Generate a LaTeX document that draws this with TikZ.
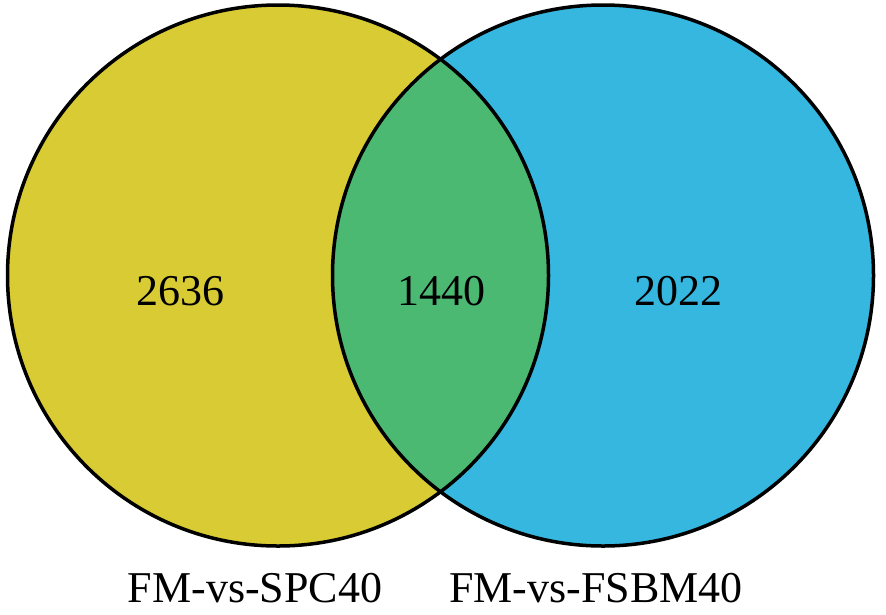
\documentclass[tikz,border=0pt]{standalone}
\usepackage{fontspec}
\setmainfont{Liberation Serif}
\definecolor{vyellow}{RGB}{217,203,51}
\definecolor{vblue}{RGB}{53,183,223}
\definecolor{vgreen}{RGB}{76,185,115}
\begin{document}
\begin{tikzpicture}[x=1pt,y=-1pt,
  num/.style={anchor=base,font=\fontsize{44}{50}\selectfont,inner sep=0pt},
  lab/.style={anchor=base,font=\fontsize{44}{50}\selectfont,inner sep=0pt},
  ring/.style={draw=black,line width=3.5pt}]
\useasboundingbox (0,0) rectangle (886,614);
\coordinate (cl) at (278,275.5);
\coordinate (cr) at (603,275.5);
\fill[vyellow] (cl) circle[radius=270.5];
\fill[vblue] (cr) circle[radius=270.5];
\begin{scope}
  \clip (cl) circle[radius=270.5];
  \fill[vgreen] (cr) circle[radius=270.5];
\end{scope}
\draw[ring] (cl) circle[radius=270.5];
\draw[ring] (cr) circle[radius=270.5];
\node[num] (a) at (180,305) {2636};
\node[num] (ab) at (441,305) {1440};
\node[num] (b) at (678,305) {2022};
\node[lab] (la) at (255,602) {FM-vs-SPC40};
\node[lab] (lb) at (596,602) {FM-vs-FSBM40};
\end{tikzpicture}
\end{document}
